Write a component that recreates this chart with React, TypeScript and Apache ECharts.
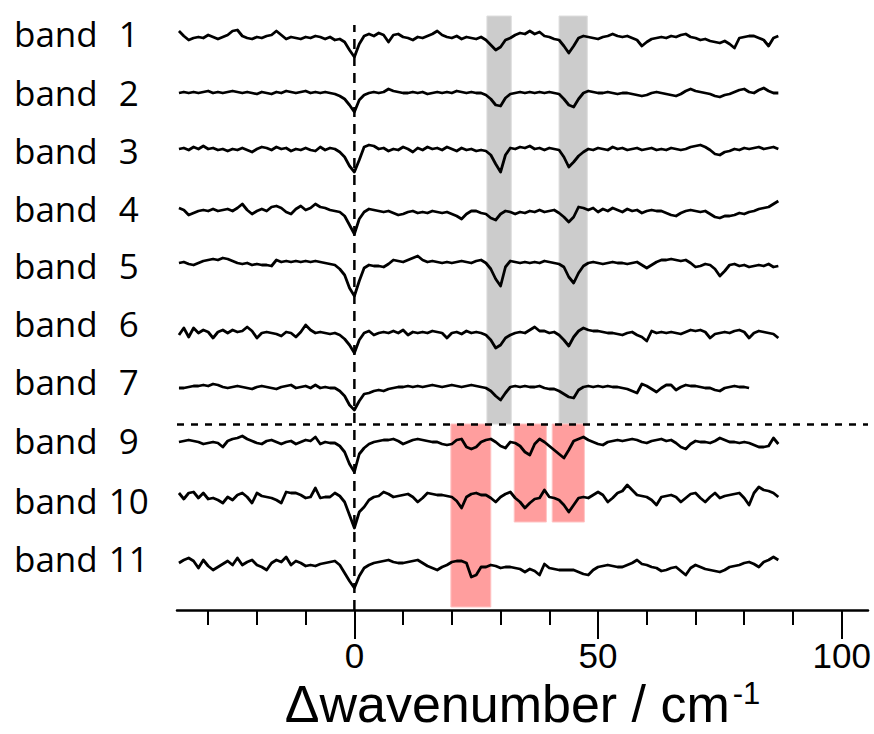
import React, { useEffect, useRef } from "react";
import * as echarts from "echarts";

// ---------- data ----------
const X_START = -36; // first sample (cm-1), samples every 1 cm-1
const bandNames = ["1", "2", "3", "4", "5", "6", "7", "9", "10", "11"];
// vertical stacking offset of each trace (arbitrary units)
const offsets = [572, 517, 460, 399, 347, 277, 223, 168, 115, 45];
// level of each band label on the stacked axis
const labelLevels = [577, 518, 460, 402, 345, 287, 229, 170, 110, 52];

const band1 = [
  7, 2, -2, 0, 1, 0, 3, 1, -1, 1,
  3, 7, 8, 2, 0, -1, 1, 0, 2, 3,
  7, 3, -1, 1, 0, -1, 1, 0, 2, 1,
  -1, 1, -2, -1, -4, -12, -19, -6, 2, 4,
  2, 5, 3, -4, 3, 4, 1, 0, -2, 1,
  0, 2, 4, 7, 3, 1, 0, 2, -1, 1,
  0, -1, 1, -2, -7, -12, -9, -2, 0, 3,
  5, 4, 7, 4, 6, 2, 1, -1, -2, -8,
  -15, -8, 0, 2, 1, 0, -1, 1, 2, 4,
  2, 1, 2, 0, -2, -8, -4, -1, 0, 1,
  0, 2, 1, 3, 4, 1, 0, -2, -1, -3,
  -4, -5, -3, -6, -10, 0, 1, 2, 2, 0,
  -2, -8, 0, 2,
];
const band2 = [
  0, 1, 0, 1, 0, 1, 2, 0, 1, 0,
  1, 2, 1, 0, 1, 0, -1, 1, 0, -1,
  1, 0, 2, 1, 0, 1, 2, 0, 1, 0,
  1, 0, -1, -3, -6, -12, -19, -7, -2, 0,
  1, 0, 1, 4, 2, 1, 0, 0, 1, 0,
  1, -1, 0, 1, 0, 1, 0, 2, 1, 0,
  1, 0, 0, -2, -6, -12, -13, -5, -1, 0,
  1, 0, 1, 0, 1, 0, 1, 0, -1, -6,
  -12, -14, -6, 0, 2, 1, 0, 0, 1, 0,
  -1, 0, 0, -1, -2, -3, -2, 0, 1, 0,
  -1, -2, -3, -1, 2, 4, 2, 1, 0, -1,
  -3, -4, -2, -1, 1, 3, 4, 1, 0, 3,
  5, 2, 0, 0,
];
const band3 = [
  1, 2, 0, 3, 1, 4, 1, 2, 0, 1,
  -1, 1, 0, 2, 0, -2, 1, 3, 2, 0,
  3, 1, 2, -1, 1, 0, 2, 0, -1, 3,
  0, 2, 1, -2, -7, -16, -22, -10, 3, 5,
  4, 1, 2, -1, 1, 0, 3, 1, -2, 2,
  0, 3, 1, 2, 0, 3, 1, -1, 2, 0,
  1, -1, 0, -1, -5, -14, -22, -5, 2, 1,
  3, 2, 4, 1, 2, 0, 2, 1, 0, -7,
  -17, -12, -6, -2, 1, 0, 2, 1, 0, 3,
  1, 2, 0, 1, 2, 0, 1, 2, 0, 1,
  0, 2, 1, 0, 1, 3, 4, 5, 3, 0,
  -4, -5, -2, -1, 1, 0, 2, 1, 2, 3,
  1, 2, 3, 1,
];
const band4 = [
  3, 1, -4, -2, 0, 1, 0, 2, 0, 1,
  2, 0, 3, 7, 1, -3, 0, 2, 0, 4,
  5, 3, -1, -3, 2, 5, 1, 3, 7, 4,
  3, 1, 0, -1, -5, -14, -23, -8, -1, 2,
  1, 0, -1, 0, -2, -4, -3, -1, 0, -2,
  -1, -2, 0, -1, -2, -1, -3, -5, -8, -3,
  0, 0, -2, -3, -7, -9, -3, 0, -1, -3,
  -1, -2, 0, -1, 1, -1, 0, 1, -2, -6,
  -11, -6, 4, 3, 1, 3, -1, 2, 0, 3,
  1, -1, 2, 0, 1, -2, 0, 1, 0, 0,
  -2, -4, -5, -2, 0, 1, 0, -1, 0, -3,
  -6, -7, -5, -5, -4, -2, -3, -1, 0, 2,
  3, 4, 7, 10,
];
const band5 = [
  0, 1, -1, -2, 0, 2, 3, 4, 3, 5,
  4, 2, 0, -1, 0, -2, -1, -2, -2, -3,
  3, 1, 2, 1, 2, 1, 2, 1, 2, 1,
  0, -1, -2, -6, -12, -25, -33, -18, -5, -2,
  -3, -3, -4, -1, 3, 2, 1, 3, 5, 7,
  3, 1, 2, 1, 0, 1, 0, 1, 2, 1,
  0, 2, 3, 0, -6, -16, -23, -4, 2, 1,
  0, 1, 0, 1, 0, 2, 1, 0, -1, -4,
  -14, -20, -10, -3, 0, 1, 0, -1, 0, 1,
  0, 0, -1, 0, 1, -2, -5, -2, 1, 3,
  3, 4, 3, 2, 3, 0, -4, -3, -1, -2,
  -6, -13, -8, -2, -1, -3, -2, -4, -3, -2,
  -3, -1, -4, -3,
];
const band6 = [
  -2, 5, -4, 5, 0, 3, 1, -5, 1, 3,
  0, 3, 1, 2, 6, 2, -5, 0, 1, 0,
  -1, -3, 1, 0, -4, 1, 8, 3, 0, 1,
  0, -1, 0, -2, -6, -12, -20, -7, 0, 2,
  -2, 0, 1, 0, 2, 0, 3, -2, 1, 0,
  1, 0, 2, 1, 0, -5, 0, 1, -1, 2,
  0, 1, 0, -2, -7, -15, -12, -5, -2, 0,
  1, 0, 3, 6, 2, 2, 0, 1, -2, -7,
  -13, -4, 2, 5, 3, 2, 2, 1, 0, 0,
  -1, -2, 0, 1, -2, -4, -8, 2, 0, 1,
  0, 1, 0, -1, 1, 3, 2, 3, 1, -5,
  -1, 0, 1, 0, 2, 3, 1, -5, 0, 2,
  1, 0, -1, -5,
];
const band7 = [
  -1, -1, 0, 1, 1, 2, 1, 3, 2, 0,
  -1, 0, 1, 0, -1, -2, 0, 1, 0, -1,
  -2, 0, 1, 2, -1, 0, 1, -1, 2, -1,
  0, -1, -1, -4, -9, -18, -23, -14, -7, -6,
  -4, -3, -4, -2, -1, 0, 0, 1, 0, 1,
  0, 1, 2, 1, 0, 1, 2, 1, 0, 1,
  2, 1, 0, -1, -4, -9, -13, -6, 0, 1,
  0, 1, 0, 0, 1, -1, -2, -2, -4, -7,
  -10, -11, -3, 0, 1, 0, 1, 0, 1, 0,
  0, -1, -2, -4, -6, 3, 1, -2, -5, -1,
  2, 2, -3, 0, 2, 1, 1, 0, -1, -1,
  -3, -4, -1, 0, 1, 0, 0, -1,
];
const band9 = [
  0, 1, 2, 1, 0, -2, -1, 0, -1, -5,
  1, 3, 4, 6, 3, 1, -1, -2, 1, 2,
  0, -2, 0, 1, -2, 0, 2, 1, 5, -2,
  0, -1, -1, -4, -10, -22, -30, -12, -6, -2,
  0, 1, 2, 2, 3, 1, -2, 0, 2, 3,
  2, 1, 0, 0, -2, -3, -2, 2, 3, -5,
  -7, -5, 0, 2, 3, 0, -4, -6, 0, -1,
  -4, -10, -13, -2, 3, 0, -4, -8, -12, -16,
  -8, 1, 3, 5, 2, 0, -2, -3, 0, 1,
  2, 1, 2, 3, 2, 0, -1, 1, 2, 3,
  1, 2, -1, -5, -7, -2, 1, 0, 0, -1,
  1, 4, 2, 0, 0, -1, 0, -1, -3, -5,
  -5, -4, 4, -2,
];
const band10 = [
  2, -4, 2, 3, -3, 2, -4, -3, -5, -8,
  -2, -5, 0, 2, -2, -8, 2, -1, -2, -3,
  -5, -8, 3, 2, 2, 0, -3, -2, 7, -3,
  -2, -2, 2, -1, -7, -20, -33, -17, -12, -5,
  -2, -1, 3, 1, -2, -1, 0, 1, -2, -7,
  -3, 2, 1, 0, 0, -1, -2, -6, -13, -2,
  1, 2, 0, 0, -3, -7, -2, 1, 3, -3,
  -7, -13, -8, -4, -3, 5, -2, -3, -5, -10,
  -17, -10, -3, -2, -3, 0, 3, 0, -7, -3,
  2, 4, 10, 5, 0, -1, -2, -5, -10, -2,
  -1, 0, -2, -7, -3, 1, 2, -3, -7, -2,
  2, -3, -1, 0, 1, 2, -3, -10, 2, 8,
  5, 4, 2, -2,
];
const band11 = [
  2, 5, 7, 4, -3, 5, -1, -5, -2, 1,
  4, 0, 7, 0, 3, 5, 0, -2, -5, 2,
  5, 3, 8, 0, 4, 2, -1, 0, -1, 1,
  2, 3, 4, 0, -8, -16, -23, -11, -3, 0,
  2, 3, 4, 5, 3, 2, 2, 3, 4, 5,
  2, -1, -3, -5, -2, 0, 3, 4, 4, 2,
  -12, -10, -2, -2, 0, -1, -3, -2, -2, -3,
  -4, -7, -4, -6, -10, 1, -3, -4, -5, -5,
  -5, -5, -7, -9, -10, -5, -2, -1, 0, -1,
  -2, -2, 0, 2, 5, 1, 0, -2, -3, -6,
  -5, -3, -2, -6, -10, -3, 0, -2, -4, -5,
  -6, -7, -5, -2, -1, 0, 2, 3, 1, -2,
  3, 5, 8, 5,
];
const bands = [band1, band2, band3, band4, band5, band6, band7, band9, band10, band11];

// highlighted regions [x from, x to, y from, y to]
const grayRegions = [
  [27.2, 32.2, 186, 594],
  [42.0, 47.8, 186, 594],
];
const pinkRegions = [
  [19.8, 28.0, 3, 186],
  [32.8, 39.4, 88, 186],
  [40.6, 47.2, 88, 186],
];
const dividerLevel = 186; // between band 7 and band 9
const zeroLine = [
  [0, 0],
  [0, 585],
];
const minorTicks = [-30, -20, -10, 0, 10, 20, 30, 40, 50, 60, 70, 80, 90, 100];
const majorTicks = [0, 50, 100];
const X_MIN = -36.4;
const X_MAX = 105.4;

const FONT = "Open Sans";
const AXIS_FONT = "Liberation Sans";

export default function App() {
  const ref = useRef<HTMLDivElement>(null);
  useEffect(() => {
    document.body.style.margin = "0";
    const chart = echarts.init(ref.current!, null, { renderer: "svg" });

    const traceSeries = bands.map((b, i) => ({
      name: "band " + bandNames[i],
      type: "line",
      xAxisIndex: 0,
      yAxisIndex: 0,
      data: b.map((v, k) => [X_START + k, offsets[i] + v]),
      showSymbol: false,
      symbol: "none",
      silent: true,
      z: 4,
      lineStyle: { color: "#000", width: 2.8, join: "round" },
    }));

    const option: any = {
      animation: false,
      backgroundColor: "#fff",
      grid: {
        left: 177,
        right: 6,
        top: 0,
        bottom: 124,
        containLabel: false,
        outerBoundsMode: "none",
      },
      xAxis: [
        {
          type: "value",
          min: X_MIN,
          max: X_MAX,
          position: "bottom",
          axisLine: { show: true, lineStyle: { color: "#000", width: 2.5 } },
          axisTick: {
            show: true,
            customValues: minorTicks,
            length: 15,
            lineStyle: { color: "#000", width: 2 },
          },
          axisLabel: { show: false },
          splitLine: { show: false },
        },
        {
          type: "value",
          min: X_MIN,
          max: X_MAX,
          position: "bottom",
          axisLine: { show: false },
          axisTick: {
            show: true,
            customValues: majorTicks,
            length: 29,
            lineStyle: { color: "#000", width: 2 },
          },
          axisLabel: {
            show: true,
            customValues: majorTicks,
            margin: 28,
            color: "#000",
            fontSize: 35,
            lineHeight: 34,
            fontFamily: AXIS_FONT,
          },
          splitLine: { show: false },
          name: "{t|Δwavenumber / cm}{s|-1}",
          nameLocation: "middle",
          nameGap: 70,
          nameTextStyle: {
            rich: {
              t: { fontSize: 52, lineHeight: 48, fontFamily: AXIS_FONT, color: "#000" },
              s: {
                fontSize: 31,
                lineHeight: 26,
                fontFamily: AXIS_FONT,
                color: "#000",
                padding: [0, 0, 22, 3],
              },
            },
          },
        },
      ],
      yAxis: {
        type: "value",
        min: 0,
        max: 610,
        axisLine: { show: false },
        axisTick: { show: false },
        splitLine: { show: false },
        axisLabel: {
          show: true,
          customValues: labelLevels,
          align: "left",
          margin: 163,
          formatter: (v: number) => {
            const i = labelLevels.indexOf(v);
            return "{a|band}{n|" + (i >= 0 ? bandNames[i] : "") + "}";
          },
          rich: {
            a: { fontSize: 35, fontFamily: FONT, color: "#000", padding: [0, 8, 0, 0] },
            n: { fontSize: 35, fontFamily: FONT, color: "#000", width: 46, align: "center" },
          },
        },
      },
      series: [
        {
          name: "guides",
          type: "line",
          xAxisIndex: 0,
          data: zeroLine,
          showSymbol: false,
          symbol: "none",
          silent: true,
          z: 3,
          lineStyle: { color: "#000", width: 2.5, type: [10, 7] },
          markArea: {
            silent: true,
            data: [
              ...grayRegions.map((r) => [
                { xAxis: r[0], yAxis: r[2], itemStyle: { color: "#cccccc", borderColor: "#dedede", borderWidth: 1 } },
                { xAxis: r[1], yAxis: r[3] },
              ]),
              ...pinkRegions.map((r) => [
                { xAxis: r[0], yAxis: r[2], itemStyle: { color: "#ff9e9e", borderColor: "#ffc4c4", borderWidth: 1 } },
                { xAxis: r[1], yAxis: r[3] },
              ]),
            ],
          },
          markLine: {
            silent: true,
            symbol: "none",
            label: { show: false },
            lineStyle: { color: "#000", width: 2.5, type: [7, 7] },
            data: [{ yAxis: dividerLevel }],
          },
        },
        ...traceSeries,
      ],
    };
    chart.setOption(option);
    return () => chart.dispose();
  }, []);
  return <div ref={ref} style={{ width: 874, height: 734 }} />;
}
